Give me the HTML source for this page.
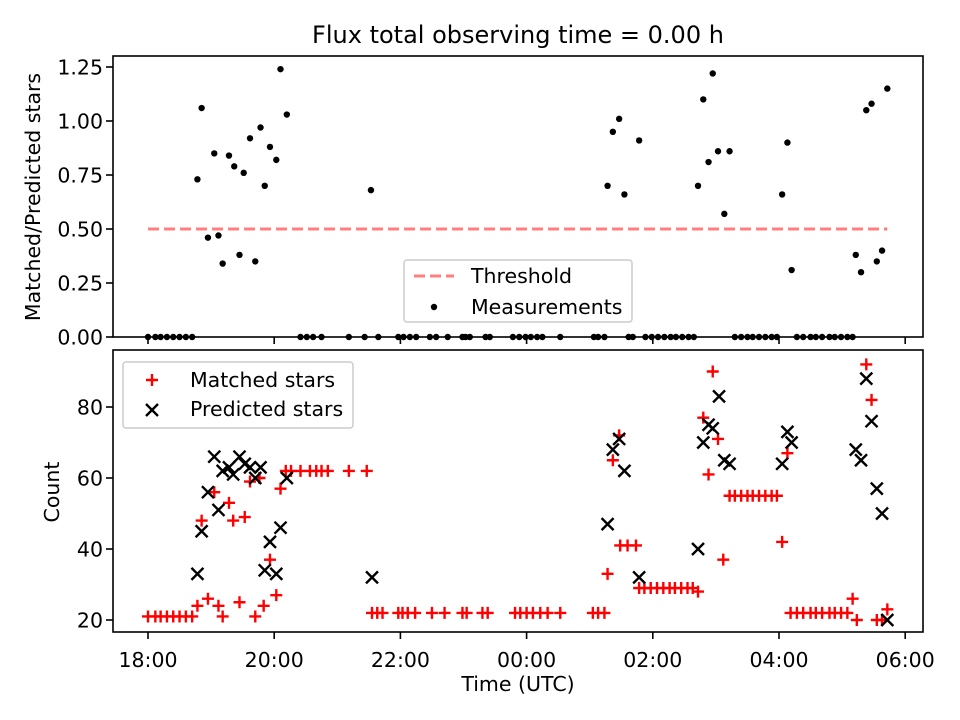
<!DOCTYPE html>
<html><head><meta charset="utf-8"><style>
body{margin:0;background:#fff}
svg{display:block;font-family:"DejaVu Sans","Liberation Sans",sans-serif}
</style></head><body>
<svg id="chart" width="960" height="720" viewBox="0 0 960 720">
<rect width="960" height="720" fill="#fff"/>
<text x="518" y="43" font-size="24" text-anchor="middle">Flux total observing time = 0.00 h</text>
<g id="topPanel"></g><g id="botPanel"></g>
</svg>
<script>
// times in minutes after 18:00
const ratioTimes=[0,7,12,18,24,30,36,42,145,151,157,165,191,206,219,238,243,249,255,268,274,285,299,302,306,321,325,347,353,359,364,370,375,392,424,428,434,457,461,473,479,485,491,497,502,508,514,519,558,564,570,575,581,587,593,598,617,623,630,635,641,648,653,659,665,670,
47,51,57,63,67,71,77,82,87,91,97,102,107,111,116,122,126,132,212,437,442,448,453,467,523,528,533,537,542,548,553,603,608,612,673,678,683,688,693,698,703];
const ratioValues=[0,0,0,0,0,0,0,0,0,0,0,0,0,0,0,0,0,0,0,0,0,0,0,0,0,0,0,0,0,0,0,0,0,0,0,0,0,0,0,0,0,0,0,0,0,0,0,0,0,0,0,0,0,0,0,0,0,0,0,0,0,0,0,0,0,0,
0.73,1.06,0.46,0.85,0.47,0.34,0.84,0.79,0.38,0.76,0.92,0.35,0.97,0.70,0.88,0.82,1.24,1.03,0.68,0.70,0.95,1.01,0.66,0.91,0.70,1.10,0.81,1.22,0.86,0.57,0.86,0.66,0.90,0.31,0.38,0.30,1.05,1.08,0.35,0.40,1.15];
const threshold=0.5;
const matchedTimes=[0,7,12,18,24,30,36,42,47,51,57,63,67,71,77,81,87,92,97,102,106,110,116,122,126,131,136,145,154,160,165,171,191,208,
213,218,223,238,242,247,254,270,282,299,303,318,323,349,354,360,366,373,380,392,423,428,434,
437,442,448,449,456,464,467,472,478,484,490,496,501,507,513,518,523,528,533,537,542,547,553,558,564,570,575,581,587,593,598,603,608,611,617,623,630,635,641,648,653,659,665,670,674,683,688,693,698,703];
const matchedValues=[21,21,21,21,21,21,21,21,24,48,26,56,24,21,53,48,25,49,59,21,60,24,37,27,57,62,62,62,62,62,62,62,62,62,
22,22,22,22,22,22,22,22,22,22,22,22,22,22,22,22,22,22,22,22,22,22,22,
33,65,72,41,41,41,29,29,29,29,29,29,29,29,29,29,28,77,61,90,71,37,55,55,55,55,55,55,55,55,55,42,67,22,22,22,22,22,22,22,22,22,22,26,20,92,82,20,20,23];
const predictedTimes=[47,51,57,63,67,71,77,81,87,92,97,102,107,111,116,122,126,132,213,437,442,448,453,467,523,528,533,537,543,548,553,603,608,612,673,678,683,688,693,698,703];
const predictedValues=[33,45,56,66,51,62,63,61,66,64,63,60,63,34,42,33,46,60,32,47,68,71,62,32,40,70,75,74,83,65,64,64,73,70,68,65,88,76,57,50,20];
const xTickMin=[0,120,240,360,480,600,720];
const xTickLabels=["18:00","20:00","22:00","00:00","02:00","04:00","06:00"];
const topTicks=[0,0.25,0.5,0.75,1.0,1.25];
const topTickLabels=["0.00","0.25","0.50","0.75","1.00","1.25"];
const botTicks=[20,40,60,80];

const NS="http://www.w3.org/2000/svg";
function mk(p,t,a){const e=document.createElementNS(NS,t);for(const k in a)e.setAttribute(k,a[k]);p.appendChild(e);return e;}
const X=m=>148+m*63.1/60;
const L=113,R=923;
const FS=20.5;
const yTop=v=>337-v*216;
const yBot=v=>620-(v-20)*3.55;
const gTop=document.getElementById('topPanel'),gBot=document.getElementById('botPanel');

function frame(g,t,b,name){
  const r=mk(g,'rect',{x:L,y:t,width:R-L,height:b-t,fill:'none',stroke:'#000','stroke-width':1.6});
  
  
  xTickMin.forEach((m,i)=>{
    const tk=mk(g,'line',{x1:X(m),x2:X(m),y1:b,y2:b+7,stroke:'#000','stroke-width':1.6});
    
    
  });
}
frame(gTop,56,337,'top-axes');
frame(gBot,350,632,'bottom-axes');

topTicks.forEach((v,i)=>{
  const tk=mk(gTop,'line',{x1:L-7,x2:L,y1:yTop(v),y2:yTop(v),stroke:'#000','stroke-width':1.6});
  
  
  const tx=mk(gTop,'text',{x:L-10,y:yTop(v)+7.5,'font-size':FS,'text-anchor':'end'});
  tx.textContent=topTickLabels[i];
  
  
});
botTicks.forEach(v=>{
  const tk=mk(gBot,'line',{x1:L-7,x2:L,y1:yBot(v),y2:yBot(v),stroke:'#000','stroke-width':1.6});
  
  
  const tx=mk(gBot,'text',{x:L-10,y:yBot(v)+7.5,'font-size':FS,'text-anchor':'end'});
  tx.textContent=v;
  
  
});
xTickMin.forEach((m,i)=>{
  const tx=mk(gBot,'text',{x:X(m),y:667,'font-size':FS,'text-anchor':'middle'});
  tx.textContent=xTickLabels[i];
  
  
});
let t=mk(gTop,'text',{x:40,y:197,'font-size':FS,'text-anchor':'middle',transform:'rotate(-90 40 197)'});
t.textContent='Matched/Predicted stars';


t=mk(gBot,'text',{x:59,y:492,'font-size':FS,'text-anchor':'middle',transform:'rotate(-90 59 492)'});
t.textContent='Count';


t=mk(gBot,'text',{x:518,y:691,'font-size':FS,'text-anchor':'middle'});
t.textContent='Time (UTC)';



const th=mk(gTop,'line',{x1:X(0),x2:X(Math.max(...ratioTimes)),y1:yTop(threshold),y2:yTop(threshold),stroke:'#ff7f7f','stroke-width':3,'stroke-dasharray':'11 5'});


ratioTimes.forEach((m,i)=>{
  const c=mk(gTop,'circle',{cx:X(m),cy:yTop(ratioValues[i]),r:3.2,fill:'#000'});
  
  
});
function plus(g,x,y){
  return mk(g,'path',{d:`M${x-6} ${y}H${x+6}M${x} ${y-6}V${y+6}`,stroke:'#f00','stroke-width':2.4,fill:'none'});
}
function cross(g,x,y){
  return mk(g,'path',{d:`M${x-6} ${y-6}L${x+6} ${y+6}M${x-6} ${y+6}L${x+6} ${y-6}`,stroke:'#000','stroke-width':2.4,fill:'none'});
}
matchedTimes.forEach((m,i)=>{
  const p=plus(gBot,X(m),yBot(matchedValues[i]));
  
  
});
predictedTimes.forEach((m,i)=>{
  const p=cross(gBot,X(m),yBot(predictedValues[i]));
  
  
});

let lg=mk(gTop,'g',{});


mk(lg,'rect',{x:404,y:260,width:228,height:62,rx:3,fill:'#fff','fill-opacity':0.8,stroke:'#ccc','stroke-width':1.5});
mk(lg,'line',{x1:414,x2:454,y1:276,y2:276,stroke:'#ff7f7f','stroke-width':3,'stroke-dasharray':'11 5'});
mk(lg,'circle',{cx:434,cy:307,r:3.2,fill:'#000'});
t=mk(lg,'text',{x:471,y:283,'font-size':FS});t.textContent='Threshold';


t=mk(lg,'text',{x:471,y:314,'font-size':FS});t.textContent='Measurements';



lg=mk(gBot,'g',{});


mk(lg,'rect',{x:123,y:362,width:230,height:66,rx:3,fill:'#fff','fill-opacity':0.8,stroke:'#ccc','stroke-width':1.5});
plus(lg,152,380);
cross(lg,152,410);
t=mk(lg,'text',{x:190,y:387,'font-size':FS});t.textContent='Matched stars';


t=mk(lg,'text',{x:190,y:416,'font-size':FS});t.textContent='Predicted stars';


</script>
</body></html>
